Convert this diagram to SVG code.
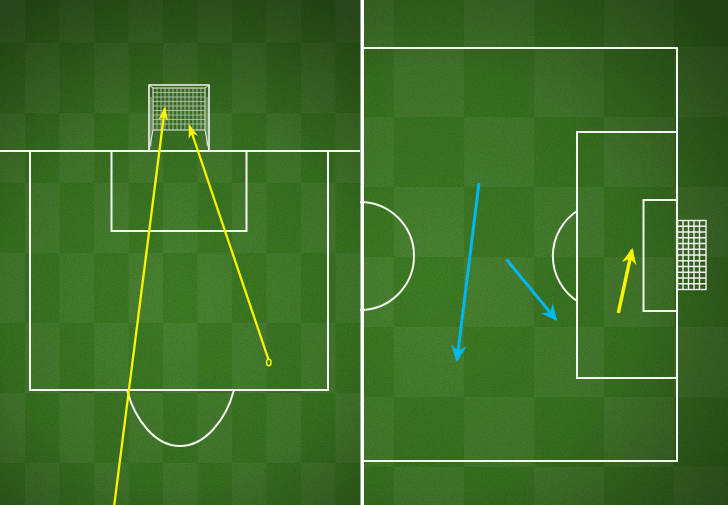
<svg xmlns="http://www.w3.org/2000/svg" width="728" height="505" viewBox="0 0 728 505">
<defs>
<style>
.line{fill:none;stroke:#f4f4f0;stroke-width:2}
.net{fill:none;stroke:#e8e8e8;stroke-width:0.8;opacity:0.75}
.rnet{fill:none;stroke:#f2f2f2;stroke-width:1.4}
.yel{fill:none;stroke:#f8f500;stroke-width:2.3}
.yel2{fill:none;stroke:#f8f500;stroke-width:3.5}
.blue{fill:none;stroke:#00b9ee;stroke-width:3}
</style>
<pattern id="chkL" patternUnits="userSpaceOnUse" x="25" y="43" width="69" height="140">
<rect x="0" y="0" width="34.5" height="70" fill="#ffffff" opacity="0.055"/>
<rect x="34.5" y="70" width="34.5" height="70" fill="#ffffff" opacity="0.055"/>
</pattern>
<pattern id="chkR" patternUnits="userSpaceOnUse" x="394" y="47" width="140" height="140">
<rect x="0" y="0" width="70" height="70" fill="#ffffff" opacity="0.055"/>
<rect x="70" y="70" width="70" height="70" fill="#ffffff" opacity="0.055"/>
</pattern>
<radialGradient id="vigL" gradientUnits="userSpaceOnUse" cx="180" cy="300" r="330">
<stop offset="0" stop-color="#000" stop-opacity="0"/>
<stop offset="0.55" stop-color="#000" stop-opacity="0.12"/>
<stop offset="1" stop-color="#000" stop-opacity="0.45"/>
</radialGradient>
<radialGradient id="vigR" gradientUnits="userSpaceOnUse" cx="430" cy="280" r="380">
<stop offset="0" stop-color="#000" stop-opacity="0"/>
<stop offset="0.55" stop-color="#000" stop-opacity="0.12"/>
<stop offset="1" stop-color="#000" stop-opacity="0.45"/>
</radialGradient>
<filter id="grain" x="0" y="0" width="100%" height="100%">
<feTurbulence type="fractalNoise" baseFrequency="0.9" numOctaves="2" seed="3" result="n"/>
<feColorMatrix in="n" type="matrix" values="0 0 0 0 0  0 0 0 0 0  0 0 0 0 0  0 0 0 -0.9 0.5"/>
</filter>
<marker id="headYs" markerUnits="userSpaceOnUse" markerWidth="14" markerHeight="10" viewBox="0 0 14 10" refX="12" refY="5" orient="auto">
<path d="M0,0 L14,5 L0,10 L4,5 z" fill="#f8f500"/>
</marker>
<marker id="headYl" markerUnits="userSpaceOnUse" markerWidth="16" markerHeight="15" viewBox="0 0 16 15" refX="14" refY="7.5" orient="auto">
<path d="M0,0 L16,7.5 L0,15 L5,7.5 z" fill="#f8f500"/>
</marker>
<marker id="headB" markerUnits="userSpaceOnUse" markerWidth="17" markerHeight="16" viewBox="0 0 17 16" refX="15" refY="8" orient="auto">
<path d="M0,0 L17,8 L0,16 L6,8 z" fill="#00b9ee"/>
</marker>
</defs>

<g id="background">
<rect x="0" y="0" width="362" height="505" fill="#3e7c24"/>
<rect x="0" y="0" width="362" height="505" fill="url(#chkL)"/>
<rect x="0" y="0" width="362" height="505" fill="url(#vigL)"/>
<rect x="364" y="0" width="364" height="505" fill="#3e7c24"/>
<rect x="364" y="0" width="364" height="505" fill="url(#chkR)"/>
<rect x="364" y="0" width="364" height="505" fill="url(#vigR)"/>
<rect x="0" y="0" width="728" height="505" filter="url(#grain)" opacity="0.35"/>
<rect x="360.5" y="0" width="3" height="505" fill="#ffffff"/>
</g>

<g id="left-pitch">
<path class="line" d="M0,151 H360"/>
<rect class="line" x="30" y="151" width="298" height="239"/>
<rect class="line" x="111.5" y="151" width="135" height="80"/>
<path class="line" d="M127,390 C135,420 155,446 180,446 C205,446 226,420 234,390"/>
</g>

<g id="left-goal">
<g class="net">
<path d="M157,88V130M161,88V130M165,88V130M169,88V130M173,88V130M177,88V130M181,88V130M185,88V130M189,88V130M193,88V130M197,88V130M201,88V130"/>
<path d="M153,92.5H205M153,97H205M153,101.5H205M153,106H205M153,110.5H205M153,115H205M153,119.5H205M153,124H205"/>
<path d="M151,97V146M207,97V146"/>
</g>
<path d="M149,151V85H209V151" fill="none" stroke="#f4f4f4" stroke-width="1.6"/>
<path d="M153,130V88H205V130H153M153,130L149,151M205,130L209,151M153,88L149,85M205,88L209,85" fill="none" stroke="#eeeeee" stroke-width="1"/>
</g>

<g id="right-pitch">
<path class="line" d="M364,48H677V461H364"/>
<rect class="line" x="577" y="132" width="100" height="246"/>
<rect class="line" x="643.5" y="200" width="33.5" height="111"/>
<path class="line" d="M360,202 A54,54 0 0 1 360,310"/>
<path class="line" d="M577,211 A54,54 0 0 0 577,301"/>
</g>

<g id="right-goal">
<rect class="rnet" x="677.5" y="220.5" width="28.5" height="69"/>
<path class="rnet" d="M683,220.5V289.5M688.5,220.5V289.5M694,220.5V289.5M699.5,220.5V289.5"/>
<path class="rnet" d="M677.5,226.3H706M677.5,232H706M677.5,237.8H706M677.5,243.5H706M677.5,249.3H706M677.5,255H706M677.5,260.8H706M677.5,266.5H706M677.5,272.3H706M677.5,278H706M677.5,283.8H706"/>
</g>

<g id="connectors">
<path class="yel" d="M114,507 L164.8,108.5" marker-end="url(#headYs)"/>
<path class="yel" d="M268.3,359 L189.5,126" marker-end="url(#headYs)"/>
<ellipse cx="268.8" cy="362.5" rx="2.2" ry="3.2" fill="none" stroke="#f8f500" stroke-width="1.5"/>
<path class="yel2" d="M618.3,313 L632,250" marker-end="url(#headYl)"/>
<path class="blue" d="M479,183 L457,360" marker-end="url(#headB)"/>
<path class="blue" d="M506.5,259.5 L556,319.5" marker-end="url(#headB)"/>
</g>
</svg>
